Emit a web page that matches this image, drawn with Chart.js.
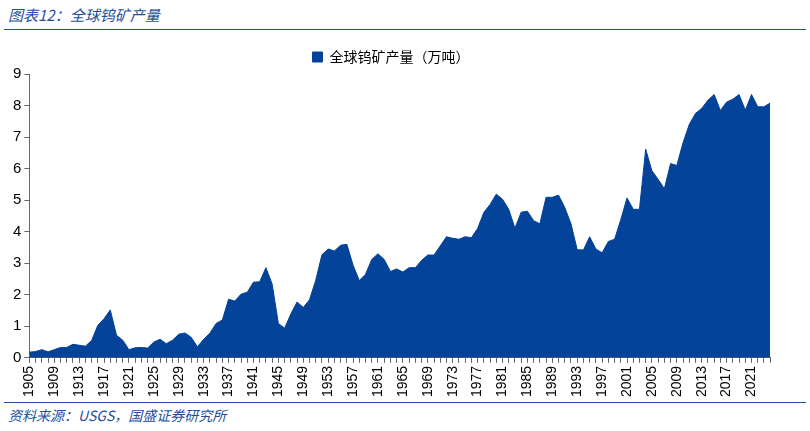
<!DOCTYPE html>
<html><head><meta charset="utf-8">
<script src="https://cdn.jsdelivr.net/npm/chart.js@4/dist/chart.umd.min.js"></script>
<style>
body{margin:0;width:810px;height:431px;background:#fff;font-family:"Noto Sans CJK SC",sans-serif;position:relative;overflow:hidden}
.t{position:absolute;left:8px;top:4px;font-size:15px;font-style:italic;color:#1d4f9c}
.l1{position:absolute;left:4px;right:4px;top:29px;border-top:1px solid #1d4f9c}
.l2{position:absolute;left:4px;right:4px;top:402px;border-top:1px solid #1d4f9c}
.f{position:absolute;left:8px;top:405px;font-size:14px;font-style:italic;color:#1d4f9c}
#w{position:absolute;left:0;top:40px;width:790px;height:360px}
</style></head><body>
<div class="t">图表12：全球钨矿产量</div><div class="l1"></div>
<div id="w"><canvas id="c"></canvas></div>
<div class="l2"></div><div class="f">资料来源：USGS，国盛证券研究所</div>
<script>
const startYear=1905;
const values=[0.18,0.2,0.26,0.19,0.26,0.33,0.33,0.43,0.4,0.37,0.55,1.03,1.24,1.52,0.72,0.56,0.26,0.32,0.33,0.31,
0.5,0.59,0.45,0.56,0.75,0.79,0.65,0.35,0.59,0.78,1.09,1.2,1.86,1.8,2.02,2.08,2.4,2.41,2.86,2.34,
1.09,0.94,1.39,1.77,1.6,1.84,2.46,3.27,3.45,3.39,3.57,3.6,2.94,2.45,2.65,3.12,3.3,3.12,2.74,2.82,
2.72,2.86,2.86,3.09,3.26,3.26,3.55,3.84,3.79,3.76,3.84,3.81,4.1,4.61,4.86,5.19,5.03,4.71,4.11,4.62,
4.65,4.35,4.25,5.09,5.09,5.16,4.77,4.25,3.43,3.42,3.84,3.45,3.33,3.69,3.76,4.38,5.07,4.71,4.71,6.62,
5.93,5.66,5.36,6.16,6.1,6.82,7.4,7.75,7.91,8.17,8.35,7.84,8.11,8.2,8.35,7.85,8.35,7.96,7.96,8.08];
const years=values.map((v,i)=>String(startYear+i));
const seriesName='全球钨矿产量（万吨）';
const font={family:'"Noto Sans CJK SC",sans-serif'};
new Chart(document.getElementById('c'),{type:'line',
data:{labels:years,datasets:[{label:seriesName,data:values,fill:'origin',backgroundColor:'#03439a',borderColor:'#03439a',borderWidth:1,pointRadius:0,tension:0}]},
options:{responsive:true,maintainAspectRatio:false,animation:false,
layout:{padding:{left:10,right:18,top:0,bottom:0}},
plugins:{tooltip:{enabled:false},legend:{labels:{boxWidth:10,boxHeight:10,color:'#000',font:{...font,size:14}}}},
scales:{x:{offset:false,grid:{display:true,drawOnChartArea:false,tickLength:5,color:'#666'},border:{color:'#666'},
 ticks:{autoSkip:false,maxRotation:90,minRotation:90,color:'#000',font:{family:'"Liberation Sans",sans-serif',size:14},
 callback:(v,i)=>(i%4===0?years[i]:'')}},
 y:{min:0,max:9,grid:{drawOnChartArea:false,tickLength:5,color:'#666'},border:{color:'#666'},
 ticks:{stepSize:1,color:'#000',font:{family:'"Liberation Sans",sans-serif',size:15}}}}}});
</script></body></html>
